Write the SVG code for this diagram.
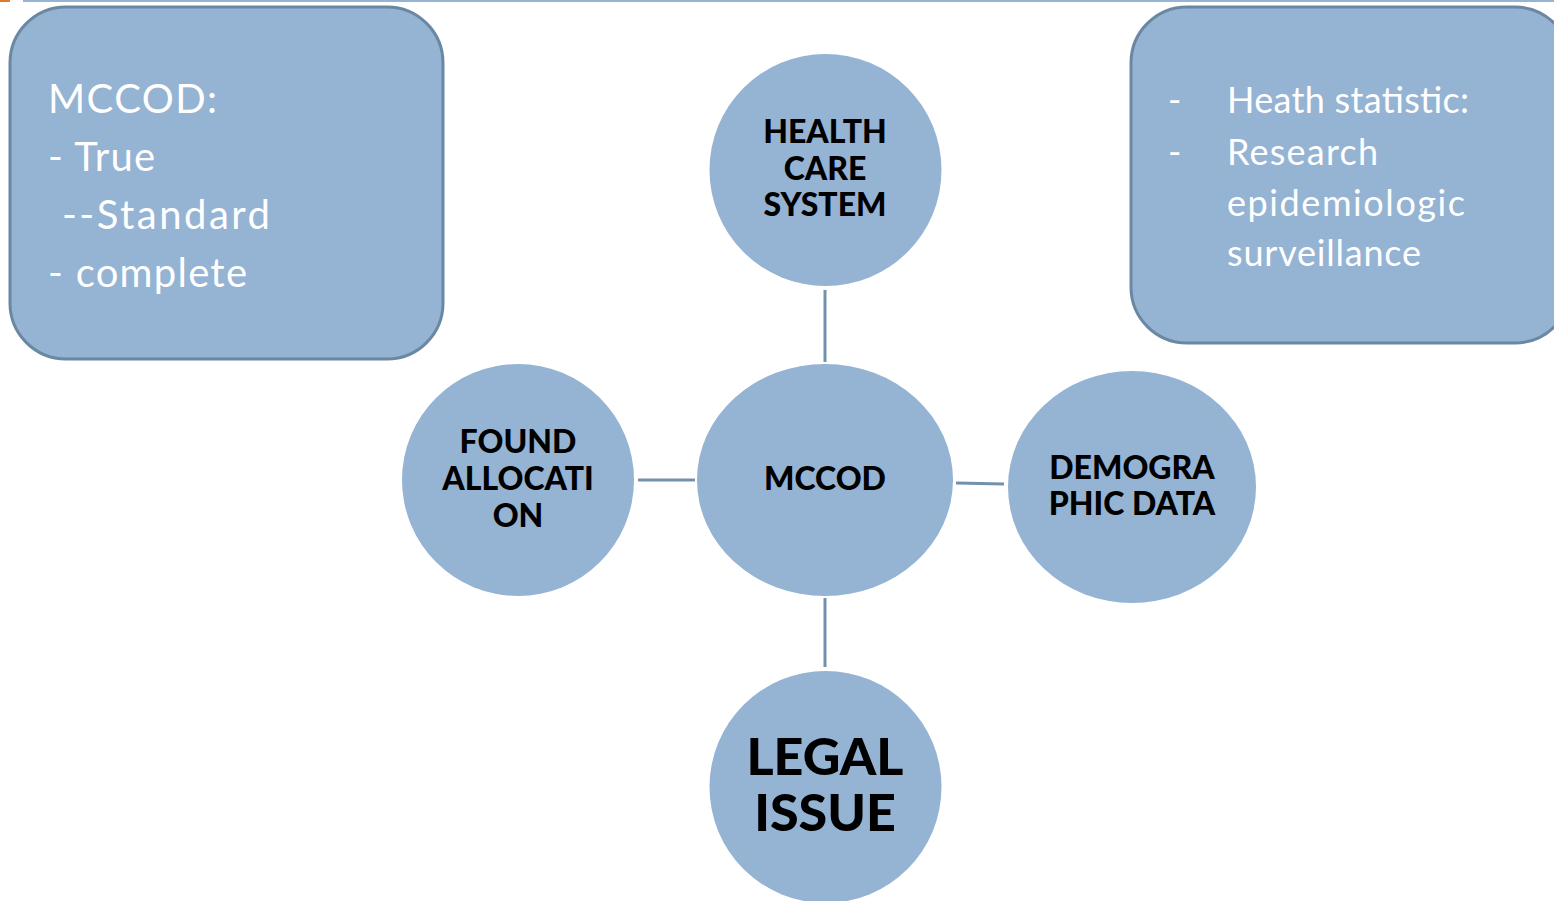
<svg xmlns="http://www.w3.org/2000/svg" width="1554" height="901" viewBox="0 0 1554 901">
<style>
.box{fill:#95b3d3;stroke:#6b88a2;stroke-width:3}
.node{fill:#95b3d3;stroke:none}
.conn line{stroke:#7291ad;stroke-width:3}
.wt{fill:#ffffff;font-family:Lato,"Open Sans",sans-serif}
.nt{fill:#000000;font-family:Lato,"Open Sans",sans-serif;font-weight:900;text-anchor:middle}
</style>
<rect width="1554" height="901" fill="#ffffff"/>
<rect x="0" y="0" width="10" height="2" fill="#e0782e"/>
<rect x="23" y="0" width="1531" height="2" fill="#95b3d3"/>
<g id="conn" class="conn">
<line x1="825" y1="290" x2="825" y2="362"/>
<line x1="825" y1="598" x2="825" y2="667"/>
<line x1="638" y1="480" x2="695" y2="480"/>
<line x1="956" y1="483" x2="1004" y2="484"/>
</g>
<g id="box-left">
<rect class="box" x="10" y="7" width="433" height="352" rx="56"/>
<text class="wt" font-size="40" x="48" y="113" textLength="169" lengthAdjust="spacing">MCCOD:</text>
<text class="wt" font-size="40" x="48" y="171" textLength="107" lengthAdjust="spacing">- True</text>
<text class="wt" font-size="40" x="62" y="229" textLength="208" lengthAdjust="spacing">--Standard</text>
<text class="wt" font-size="40" x="48" y="287" textLength="199" lengthAdjust="spacing">- complete</text>
</g>
<g id="box-right">
<rect class="box" x="1131" y="7" width="440" height="336" rx="56"/>
<text class="wt" font-size="36" x="1168" y="113">-</text>
<text class="wt" font-size="36" x="1227" y="113" textLength="242" lengthAdjust="spacing">Heath statistic:</text>
<text class="wt" font-size="36" x="1168" y="165">-</text>
<text class="wt" font-size="36" x="1227" y="165" textLength="151" lengthAdjust="spacing">Research</text>
<text class="wt" font-size="36" x="1227" y="216" textLength="238" lengthAdjust="spacing">epidemiologic</text>
<text class="wt" font-size="36" x="1227" y="266" textLength="194" lengthAdjust="spacing">surveillance</text>
</g>
<g id="node-health">
<circle class="node" cx="825.5" cy="170" r="116"/>
<text class="nt" font-size="32" x="825" y="143">HEALTH</text>
<text class="nt" font-size="32" x="825" y="180">CARE</text>
<text class="nt" font-size="32" x="825" y="216">SYSTEM</text>
</g>
<g id="node-mccod">
<ellipse class="node" cx="825" cy="480" rx="128" ry="116"/>
<text class="nt" font-size="32" x="825" y="490">MCCOD</text>
</g>
<g id="node-found">
<circle class="node" cx="518" cy="480" r="116"/>
<text class="nt" font-size="32" x="518" y="453">FOUND</text>
<text class="nt" font-size="32" x="518" y="490">ALLOCATI</text>
<text class="nt" font-size="32" x="518" y="527">ON</text>
</g>
<g id="node-demo">
<ellipse class="node" cx="1132" cy="487" rx="124" ry="116"/>
<text class="nt" font-size="32" x="1132" y="479">DEMOGRA</text>
<text class="nt" font-size="32" x="1132" y="515">PHIC DATA</text>
</g>
<g id="node-legal">
<circle class="node" cx="825.5" cy="787" r="116"/>
<text class="nt" font-size="52" x="825" y="775">LEGAL</text>
<text class="nt" font-size="52" x="825" y="831">ISSUE</text>
</g>
</svg>
